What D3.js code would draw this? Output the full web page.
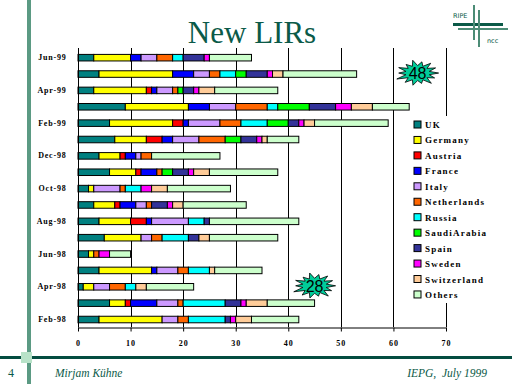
<!DOCTYPE html>
<html>
<head>
<meta charset="utf-8">
<script src="https://cdn.jsdelivr.net/npm/d3@7"></script>
<style>
  html, body { margin: 0; padding: 0; background: #fff; }
  svg { display: block; }
  .serif { font-family: 'Liberation Serif', 'Times New Roman', serif; }
</style>
</head>
<body>
<div id="chart"></div>
<script>
// categories (top to bottom)
const months = ['Jun-99','May-99','Apr-99','Mar-99','Feb-99','Jan-99','Dec-98','Nov-98','Oct-98',
                'Sep-98','Aug-98','Jul-98','Jun-98','May-98','Apr-98','Mar-98','Feb-98'];
// only every other month carries a label
const monthLabels = ['Jun-99','','Apr-99','','Feb-99','','Dec-98','','Oct-98',
                     '','Aug-98','','Jun-98','','Apr-98','','Feb-98'];

const countries = ['UK','Germany','Austria','France','Italy','Netherlands','Russia',
                   'SaudiArabia','Spain','Sweden','Switzerland','Others'];
const colors = ['#008080','#ffff00','#ff0000','#0000ff','#cc99ff','#ff6600','#00ffff',
                '#00ff00','#333399','#ff00ff','#ffcc99','#ccffcc'];

// series values, one per month in the order above
const uk          = [3, 4, 3, 9, 6, 7, 4, 6, 2, 3, 4, 5, 2, 4, 1, 6, 4];
const germany     = [7,14,10,12,12, 6, 4, 5, 1, 4, 6, 7, 1,10, 2, 3,12];
const austria     = [0, 0, 1, 0, 2, 3, 1, 1, 0, 1, 3, 0, 0, 0, 0, 1, 0];
const france      = [2, 4, 1, 4, 1, 2, 2, 3, 0, 3, 1, 0, 0, 1, 0, 5, 0];
const italy       = [3, 3, 3, 5, 6, 5, 1, 0, 5, 2, 7, 2, 0, 4, 3, 4, 3];
const netherlands = [3, 2, 1, 6, 4, 5, 2, 1, 1, 1, 0, 2, 1, 2, 3, 1, 2];
const russia      = [2, 3, 0, 2, 5, 0, 0, 0, 3, 0, 3, 5, 0, 4, 2, 8, 7];
const saudiArabia = [0, 2, 1, 6, 4, 3, 0, 2, 0, 0, 0, 0, 0, 0, 0, 0, 0];
const spain       = [4, 4, 2, 5, 2, 3, 0, 3, 0, 3, 1, 2, 0, 0, 0, 3, 1];
const sweden      = [1, 1, 1, 3, 1, 1, 0, 1, 2, 1, 0, 0, 2, 0, 0, 1, 1];
const switzerland = [0, 2, 3, 4, 2, 1, 0, 3, 3, 2, 0, 2, 0, 1, 2, 4, 3];
const others      = [8,14,12, 7,14, 6,13,13,12,12,17,13, 4, 9, 9, 9, 9];

const xTicks = [0, 10, 20, 30, 40, 50, 60, 70];

// callouts: [label, value, month]
const callouts = [['48', 64.6, 'May-99'], ['28', 45.0, 'Apr-98']];

// ---------------------------------------------------------------------------
const width = 512, height = 384;
const green = '#0b5a48';

const svg = d3.select('#chart').append('svg')
    .attr('width', width)
    .attr('height', height);

// slide decoration: left stripe, footer rule
svg.append('rect').attr('x', 27).attr('y', 0).attr('width', 4).attr('height', height).attr('fill', '#5b9a83');
svg.append('rect').attr('x', 0).attr('y', 356).attr('width', width).attr('height', 3).attr('fill', '#044d40');
svg.append('rect').attr('x', 21).attr('y', 352).attr('width', 11).attr('height', 11).attr('fill', '#b8e2c8');

// title
svg.append('text')
    .attr('class', 'serif')
    .attr('x', 252).attr('y', 43)
    .attr('text-anchor', 'middle')
    .attr('font-size', 31)
    .attr('fill', green)
    .text('New LIRs');

// logo
const logo = svg.append('g');
logo.append('text').attr('x', 453).attr('y', 18).attr('font-family', 'DejaVu Sans, sans-serif')
    .attr('font-size', 6.5).attr('fill', green).text('RIPE');
logo.append('text').attr('x', 487).attr('y', 43).attr('font-family', 'DejaVu Sans, sans-serif')
    .attr('font-size', 6.5).attr('fill', green).text('ncc');
logo.append('rect').attr('x', 453).attr('y', 23).attr('width', 50).attr('height', 3).attr('fill', green);
logo.append('rect').attr('x', 458).attr('y', 28).attr('width', 50).attr('height', 2).attr('fill', '#4c8c76');
logo.append('rect').attr('x', 473).attr('y', 5).attr('width', 2).attr('height', 35).attr('fill', '#4c8c76');
logo.append('rect').attr('x', 478).attr('y', 10).attr('width', 2).attr('height', 37).attr('fill', '#4c8c76');

// footer
svg.append('text').attr('class', 'serif').attr('x', 8).attr('y', 377)
    .attr('font-size', 12).attr('fill', green).text('4');
svg.append('text').attr('class', 'serif').attr('x', 55).attr('y', 377)
    .attr('font-size', 11.5).attr('font-style', 'italic').attr('fill', green).text('Mirjam Kühne');
svg.append('text').attr('class', 'serif').attr('x', 487).attr('y', 377)
    .attr('text-anchor', 'end').attr('xml:space', 'preserve')
    .attr('font-size', 11.5).attr('font-style', 'italic').attr('fill', green).text('IEPG,  July 1999');

// ---------------------------------------------------------------------------
// scales
const xScale = d3.scaleLinear().domain([0, 70]).range([78, 446]);
const yScale = d3.scaleBand().domain(months).range([49.5, 327.7]).paddingInner(0.6).paddingOuter(0.3);

// table for the stack
const seriesValues = [uk, germany, austria, france, italy, netherlands, russia,
                      saudiArabia, spain, sweden, switzerland, others];
const table = months.map((m, i) => {
    const row = { month: m };
    countries.forEach((c, k) => row[c] = seriesValues[k][i]);
    return row;
});
const stacked = d3.stack().keys(countries)(table);

// gridlines
svg.append('g')
    .selectAll('line')
    .data(xTicks.slice(1))
    .join('line')
    .attr('x1', d => Math.round(xScale(d)) + 0.5)
    .attr('x2', d => Math.round(xScale(d)) + 0.5)
    .attr('y1', 48)
    .attr('y2', 327)
    .attr('stroke', '#000')
    .attr('stroke-width', 1);

// bars
const layers = svg.append('g')
    .selectAll('g')
    .data(stacked)
    .join('g')
    .attr('fill', (d, i) => colors[i]);

layers.selectAll('rect')
    .data(d => d.filter(s => s[1] - s[0] > 0))
    .join('rect')
    .attr('x', s => xScale(s[0]))
    .attr('y', s => yScale(s.data.month))
    .attr('width', s => xScale(s[1]) - xScale(s[0]))
    .attr('height', yScale.bandwidth())
    .attr('stroke', '#000')
    .attr('stroke-width', 1);

// axes
const xAxisGroup = svg.append('g').attr('transform', 'translate(0,327.5)');
xAxisGroup.call(d3.axisBottom(xScale).tickValues(xTicks).tickSize(4).tickSizeOuter(0));
xAxisGroup.select('.domain').attr('stroke', '#000');
xAxisGroup.selectAll('text')
    .attr('class', 'serif')
    .attr('font-size', 8)
    .attr('font-weight', 'bold')
    .attr('letter-spacing', 1)
    .attr('fill', '#000')
    .attr('dy', '1.4em');

const yAxisGroup = svg.append('g').attr('transform', 'translate(78.5,0)');
yAxisGroup.call(d3.axisLeft(yScale).tickSize(0).tickPadding(12)
    .tickFormat((d, i) => monthLabels[i]));
yAxisGroup.select('.domain').attr('stroke', '#000').attr('d', 'M0,48V327.5');
yAxisGroup.selectAll('text')
    .attr('class', 'serif')
    .attr('font-size', 8)
    .attr('font-weight', 'bold')
    .attr('letter-spacing', 0.8)
    .attr('fill', '#000');

// legend
const legend = svg.append('g');
legend.append('rect')
    .attr('x', 410).attr('y', 116).attr('width', 90).attr('height', 187)
    .attr('fill', '#fff');
const legendItems = legend.selectAll('g.item')
    .data(countries)
    .join('g')
    .attr('class', 'item')
    .attr('transform', (d, i) => `translate(414,${121 + i * 15.45})`);
legendItems.append('rect')
    .attr('width', 7).attr('height', 7)
    .attr('fill', (d, i) => colors[i])
    .attr('stroke', '#000').attr('stroke-width', 1);
legendItems.append('text')
    .attr('class', 'serif')
    .attr('x', 11).attr('y', 7)
    .attr('font-size', 9)
    .attr('font-weight', 'bold')
    .attr('letter-spacing', 1.2)
    .text(d => d);

// starburst callouts
const spikes = [1.0, 0.9, 1.05, 0.85, 1.0, 0.95, 1.1, 0.9, 1.0, 0.88, 1.05, 0.92, 1.0, 0.95];
const starPoints = [];
spikes.forEach((r, i) => {
    const a0 = (i / spikes.length) * 2 * Math.PI;
    const a1 = ((i + 0.5) / spikes.length) * 2 * Math.PI;
    starPoints.push([Math.cos(a0) * 21 * r, Math.sin(a0) * 12.5 * r]);
    starPoints.push([Math.cos(a1) * 12, Math.sin(a1) * 7.5]);
});
const starPath = d3.line().curve(d3.curveLinearClosed)(starPoints);

const stars = svg.append('g')
    .selectAll('g')
    .data(callouts)
    .join('g')
    .attr('transform', d => `translate(${xScale(d[1])},${yScale(d[2]) + yScale.bandwidth() / 2 - 1})`);
stars.append('path')
    .attr('d', starPath)
    .attr('fill', '#00cc99')
    .attr('stroke', '#000')
    .attr('stroke-width', 0.8);
stars.append('text')
    .attr('text-anchor', 'middle')
    .attr('y', 6)
    .attr('font-family', 'Liberation Sans, Arial, sans-serif')
    .attr('font-size', 16)
    .attr('fill', '#000')
    .text(d => d[0]);
</script>
</body>
</html>
